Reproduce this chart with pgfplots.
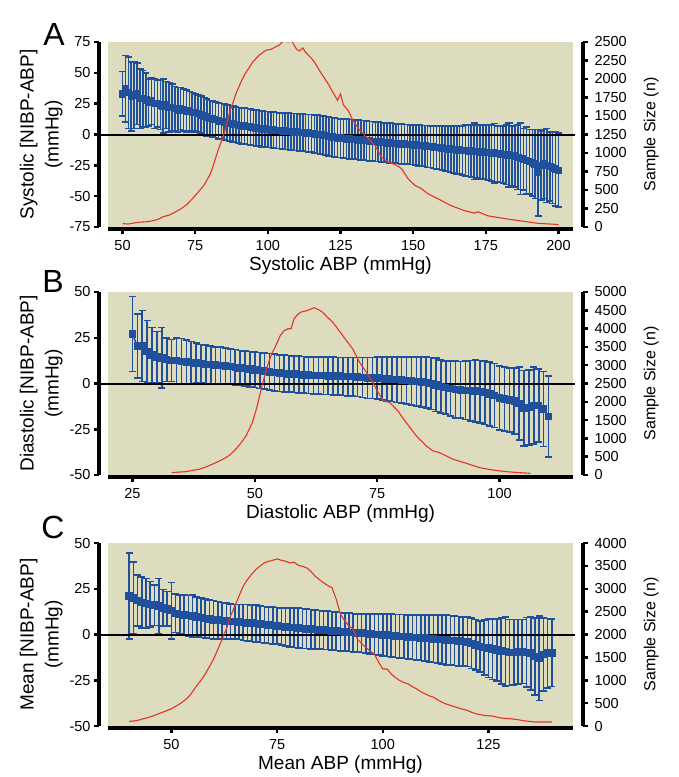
\documentclass[border=0pt]{standalone}
\usepackage{pgfplots}
\pgfplotsset{compat=1.18}
\usepackage{pgfplotstable}
\usepackage{fontspec}
\setmainfont{Liberation Sans}
\definecolor{bgk}{RGB}{221,220,191}
\definecolor{pblue}{RGB}{32,80,155}
\definecolor{pred}{RGB}{228,52,36}

\pgfplotstableread[row sep=\\]{x m e\\
50 33 18\\ 51 37 27\\ 52 34 29\\ 53 31 28\\ 54 32 27\\ 55 33 25\\ 56 29 24\\ 57 29 23\\ 58 28 22\\ 59 26 19\\
60 27 19\\ 61 25 20\\ 62 25 19\\ 63 24 20\\ 64 23 22\\ 65 24 19\\ 66 22 20\\ 67 22 19\\ 68 21 18\\ 69 20 18\\
70 21 17\\ 71 20 17\\ 72 19 17\\ 73 19 16\\ 74 18 16\\ 75 18 15\\ 76 17 15\\ 77 16 15\\ 78 15 15\\ 79 14 15\\
80 13 14.5\\ 81 12.5 14.5\\ 82 12 14.5\\ 83 11 14.5\\ 84 10.5 14.5\\ 85 10 14.5\\ 86 9.5 14.5\\ 87 9 14.5\\ 88 8.5 14.5\\ 89 8 14.5\\
90 7.5 14.5\\ 91 7 14.5\\ 92 6.8 14.5\\ 93 6.5 14.5\\ 94 6 14.5\\ 95 5.5 14.5\\ 96 5.2 14.5\\ 97 5 14.5\\ 98 4.6 14.5\\ 99 4.3 14.5\\
100 4 14.5\\ 101 3.8 14.5\\ 102 3.6 14.5\\ 103 3.3 14.5\\ 104 3.1 14.5\\ 105 3 14.8\\ 106 2.7 14.8\\ 107 2.5 14.8\\ 108 2.3 14.8\\ 109 2.1 15\\
110 2 15\\ 111 1.8 15\\ 112 1.5 15\\ 113 1.3 15\\ 114 1.1 15.2\\ 115 1 15.3\\ 116 0.5 15.3\\ 117 0.2 15.5\\ 118 -0.2 15.5\\ 119 -0.6 15.5\\
120 -1 15.7\\ 121 -1.5 15.7\\ 122 -2 15.7\\ 123 -2.4 15.8\\ 124 -2.7 15.8\\ 125 -3 15.8\\ 126 -3.2 15.8\\ 127 -3.5 16\\ 128 -3.7 16\\ 129 -3.9 16\\
130 -4.1 16\\ 131 -4.3 16\\ 132 -4.5 16\\ 133 -4.8 16\\ 134 -5 16\\ 135 -5.3 16\\ 136 -5.5 16\\ 137 -5.8 16\\ 138 -6 16\\ 139 -6.2 16\\
140 -6.5 16\\ 141 -6.7 16\\ 142 -6.9 16\\ 143 -7.1 16\\ 144 -7.3 16\\ 145 -7.5 16\\ 146 -7.7 16\\ 147 -7.8 16\\ 148 -8 16\\ 149 -8.2 16\\
150 -8.4 16\\ 151 -8.6 16.3\\ 152 -8.9 16.5\\ 153 -9.1 16.5\\ 154 -9.4 16.7\\ 155 -9.6 17\\ 156 -9.9 17\\ 157 -10.1 17.5\\ 158 -10.4 17.5\\ 159 -10.7 17.8\\
160 -11 18\\ 161 -11.3 18.5\\ 162 -11.6 18.5\\ 163 -11.9 19\\ 164 -12.2 19\\ 165 -12.5 19.5\\ 166 -12.7 19.5\\ 167 -12.9 20\\ 168 -13 20.5\\ 169 -13.2 21\\
170 -13.4 21\\ 171 -13.6 23\\ 172 -13.8 21.5\\ 173 -14 22\\ 174 -14.3 21.5\\ 175 -14.5 22\\ 176 -14.7 22\\ 177 -15 22.5\\ 178 -15.2 24\\ 179 -15.5 22.5\\
180 -15.8 23\\ 181 -16.2 23\\ 182 -16.5 24\\ 183 -16.8 26\\ 184 -17.2 24\\ 185 -17.6 25\\ 186 -18.5 26\\ 187 -19.5 29\\ 188 -20 25\\ 189 -21 27\\
190 -22 26\\ 191 -23 27\\ 192 -24 28\\ 193 -31 35\\ 194 -25 28\\ 195 -24 28\\ 196 -25 30\\ 197 -26 28\\ 198 -27 29\\ 199 -28 30\\ 200 -29 30\\
}\dataA

\pgfplotstableread[row sep=\\]{x m e\\
25 27 20.5\\ 26 20.5 17.5\\ 27 20.5 19.5\\ 28 17.5 17\\ 29 15.5 15\\ 30 14.5 14\\ 31 14 16.5\\ 32 13 12\\ 33 12.5 11.5\\ 34 12.5 12.5\\
35 12 12.5\\ 36 11.8 12\\ 37 11.5 11.5\\ 38 11.2 11\\ 39 10.8 10.5\\ 40 10.5 10.5\\ 41 10.3 10.3\\ 42 10 10\\ 43 9.8 10\\ 44 9.5 9.8\\
45 9.2 9.8\\ 46 8.8 9.7\\ 47 8.5 9.6\\ 48 8.2 9.6\\ 49 7.8 9.6\\ 50 7.5 9.6\\ 51 7.1 9.8\\ 52 6.8 9.8\\ 53 6.4 9.9\\ 54 6 10\\
55 5.7 10\\ 56 5.5 10\\ 57 5.3 10\\ 58 5.1 10\\ 59 4.9 10\\ 60 4.7 10\\ 61 4.6 10\\ 62 4.5 10.1\\ 63 4.4 10.1\\ 64 4.3 10.2\\
65 4.2 10.2\\ 66 4.1 10.3\\ 67 4 10.3\\ 68 3.9 10.4\\ 69 3.8 10.5\\ 70 3.7 10.5\\ 71 3.5 10.7\\ 72 3.3 11\\ 73 3.1 11.2\\ 74 3 11.3\\
75 2.9 11.5\\ 76 2.7 11.7\\ 77 2.5 12\\ 78 2.3 12.2\\ 79 2.1 12.4\\ 80 2 12.6\\ 81 1.7 12.8\\ 82 1.4 13\\ 83 1.1 13.3\\ 84 0.8 13.6\\
85 0.5 14\\ 86 0 14.3\\ 87 -0.7 14.6\\ 88 -1.5 14.5\\ 89 -2.2 14.5\\ 90 -2.8 15\\ 91 -3.2 15.5\\ 92 -3.5 15.5\\ 93 -3.7 16\\ 94 -3.9 16.5\\
95 -4.1 17\\ 96 -4.5 17\\ 97 -5 17.3\\ 98 -5.6 17.5\\ 99 -6.6 17.5\\ 100 -7.8 17.5\\ 101 -8.4 17.5\\ 102 -9 17.5\\ 103 -9.6 18\\ 104 -11 20\\
105 -13.5 20.5\\ 106 -13 20.5\\ 107 -12 21\\ 108 -12 20\\ 109 -14 20.5\\ 110 -18 22\\
}\dataB

\pgfplotstableread[row sep=\\]{x m e\\
40 21 23.5\\ 41 20 19.5\\ 42 18.5 14\\ 43 17.5 14\\ 44 17 13.5\\ 45 16.5 12.5\\ 46 16 11\\ 47 15.5 15\\ 48 14.5 10\\ 49 14 9.5\\
50 13 15.5\\ 51 11.5 10.5\\ 52 11 10.5\\ 53 10.7 11\\ 54 10.3 11\\ 55 10 11.5\\ 56 9.6 11\\ 57 9.2 10.8\\ 58 8.8 10.6\\ 59 8.4 10.5\\
60 8 10.5\\ 61 7.8 10.3\\ 62 7.6 10\\ 63 7.4 9.8\\ 64 7.2 9.6\\ 65 7 9.5\\ 66 6.8 9.6\\ 67 6.6 9.8\\ 68 6.4 9.9\\ 69 6.2 10\\
70 6 10\\ 71 5.7 10\\ 72 5.4 10\\ 73 5.1 10\\ 74 4.9 10\\ 75 4.7 10\\ 76 4.4 10.2\\ 77 4.2 10.4\\ 78 3.9 10.6\\ 79 3.7 10.8\\
80 3.5 11\\ 81 3.3 10.9\\ 82 3.1 10.8\\ 83 2.9 10.7\\ 84 2.8 10.6\\ 85 2.6 10.5\\ 86 2.4 10.5\\ 87 2.2 10.5\\ 88 2 10.5\\ 89 1.8 10.5\\
90 1.6 10.5\\ 91 1.4 10.5\\ 92 1.2 10.5\\ 93 1 10.5\\ 94 0.8 10.5\\ 95 0.7 10.5\\ 96 0.5 10.7\\ 97 0.3 10.9\\ 98 0.1 11.1\\ 99 0 11.3\\
100 -0.2 11.5\\ 101 -0.4 11.6\\ 102 -0.6 11.7\\ 103 -0.8 11.8\\ 104 -1 11.9\\ 105 -1.1 12\\ 106 -1.3 12.1\\ 107 -1.5 12.2\\ 108 -1.7 12.3\\ 109 -1.9 12.4\\
110 -2 12.5\\ 111 -2.2 12.7\\ 112 -2.4 12.9\\ 113 -2.6 13.1\\ 114 -2.8 13.3\\ 115 -3 13.5\\ 116 -3.2 13.5\\ 117 -3.4 13.5\\ 118 -3.6 13.5\\ 119 -3.8 13.5\\
120 -4 13.5\\ 121 -4.8 13.7\\ 122 -5.6 13.8\\ 123 -6.5 14\\ 124 -7 15\\ 125 -7.5 16\\ 126 -8 16.5\\ 127 -8.5 17\\ 128 -9 18\\ 129 -9.3 19\\
130 -9.9 18\\ 131 -9.7 17.8\\ 132 -9.5 17.6\\ 133 -9.3 17.5\\ 134 -9.7 19\\ 135 -10.2 20\\ 136 -12 21\\ 137 -13 23\\ 138 -11 20\\ 139 -10.2 19\\ 140 -10 18.5\\
}\dataC

\pgfplotsset{
  common/.style={
    scale only axis, width=465pt,
    /pgf/number format/assume math mode=true,
    /pgf/number format/1000 sep={},
    scaled ticks=false,
    tick align=outside, major tick length=5pt,
    tick style={black, line width=2.5pt},
    axis line style={black, line width=3.5pt, -},
    tick label style={font=\fontsize{14.5}{16}\selectfont},
  },
  leftpanel/.style={
    common,
    axis background/.style={fill=bgk},
    axis x line*=bottom, axis y line*=left,
    axis x line shift=2pt, axis y line shift=9pt,
    clip=false,
    xticklabel style={yshift=-3pt},
    xlabel style={font=\fontsize{19}{21}\selectfont, yshift=-1pt, inner sep=1pt},
    ylabel style={font=\fontsize{19}{25}\selectfont, align=center},
  },
  rightpanel/.style={
    common,
    axis x line=none, axis y line*=right,
    axis y line shift=10pt,
    yticklabel style={xshift=3pt},
    ylabel style={font=\fontsize{16}{18}\selectfont, yshift=-10pt},
  },
  meanplot/.style={pblue, line width=1.5pt, mark=square*, mark size=3pt, mark options={pblue, solid},
    error bars/.cd, y dir=both, y explicit,
    error bar style={line width=1.6pt, pblue},
    error mark options={line width=1.6pt, mark size=3.6pt, pblue, rotate=90}},
  nline/.style={pred, line width=1.1pt},
}

\begin{document}
\begin{tikzpicture}
\useasboundingbox (0,0) rectangle (679pt,-777pt);

% ---------------- Panel A ----------------
\begin{axis}[leftpanel, height=185pt, at={(108pt,-227pt)}, anchor=south west,
  xmin=45, xmax=205, ymin=-75, ymax=75,
  xtick={50,75,...,200}, ytick={-75,-50,...,75},
  xlabel={Systolic ABP (mmHg)}, ylabel={Systolic [NIBP-ABP]\\(mmHg)}]
\addplot[meanplot] table[x=x, y=m, y error=e] {\dataA};
\draw[black, line width=2pt] ([xshift=-9pt]axis cs:45,0) -- ([xshift=2pt]axis cs:205,0);
\end{axis}
\begin{axis}[rightpanel, height=185pt, at={(108pt,-227pt)}, anchor=south west,
  xmin=45, xmax=205, ymin=0, ymax=2500,
  ytick={0,250,...,2500}, ylabel={Sample Size (n)}]
\addplot[nline] coordinates {(50,46)(52,40)(54,55)(56,65)(58,70)(60,82)(62,100)(64,140)(65,150)(66,160)(68,200)(70,243)(72,300)(74,380)(75,426)(76,470)(78,563)(80,700)(81,800)(82,930)(83,1050)(84,1160)(85,1270)(86,1420)(87,1570)(88,1680)(89,1800)(90,1890)(91,1980)(92,2060)(93,2120)(94,2180)(95,2240)(96,2280)(97,2320)(98,2350)(99,2380)(100,2395)(101,2400)(102,2420)(103,2440)(104,2460)(105,2500)(106,2520)(107,2500)(108,2530)(109,2460)(110,2395)(111,2380)(112,2420)(113,2360)(114,2320)(115,2280)(116,2230)(117,2165)(118,2100)(119,2040)(120,1980)(121,1920)(122,1845)(123,1780)(124,1710)(125,1800)(126,1650)(127.7,1571)(129,1460)(131.2,1328)(133,1250)(134.6,1191)(136.9,1099)(139.2,939)(141.4,880)(144.3,834)(146,788)(148.3,650)(150.6,563)(152.9,517)(155.1,449)(158.6,380)(163.1,288)(167.7,220)(171.1,188)(172.3,206)(175.7,151)(181.4,114)(187.1,82)(192.8,50)(198.5,37)(200,30)};
\end{axis}
\node[anchor=base, font=\fontsize{32}{34}\selectfont, inner sep=0pt] at (54pt,-45pt) {A};

% ---------------- Panel B ----------------
\begin{axis}[leftpanel, height=183pt, at={(108pt,-475pt)}, anchor=south west,
  xmin=20, xmax=115, ymin=-50, ymax=50,
  xtick={25,50,75,100}, ytick={-50,-25,...,50},
  xlabel={Diastolic ABP (mmHg)}, ylabel={Diastolic [NIBP-ABP]\\(mmHg)}]
\addplot[meanplot] table[x=x, y=m, y error=e] {\dataB};
\draw[black, line width=2pt] ([xshift=-9pt]axis cs:20,0) -- ([xshift=2pt]axis cs:115,0);
\end{axis}
\begin{axis}[rightpanel, height=183pt, at={(108pt,-475pt)}, anchor=south west,
  xmin=20, xmax=115, ymin=0, ymax=5000,
  ytick={0,500,...,5000}, ylabel={Sample Size (n)}]
\addplot[nline] coordinates {(33,64)(34.5,80)(35.9,91)(37,120)(38.6,155)(40,220)(41.3,293)(42.7,380)(44.1,475)(45,560)(46.1,704)(47.2,880)(48.2,1069)(49.5,1435)(50.5,1892)(51.6,2514)(52.5,2950)(53.4,3300)(54.3,3538)(55.2,3812)(56,3949)(56.8,3995)(57.4,3995)(58,4269)(58.7,4380)(59.4,4452)(60.8,4497)(62.1,4570)(63,4520)(63.8,4452)(64.9,4300)(65.9,4177)(67.2,3949)(68.7,3675)(70,3446)(71.4,3080)(72.8,2806)(74.1,2532)(75,2303)(76.2,2029)(77.5,1984)(79.2,1755)(80.9,1435)(83,1069)(85,795)(86.4,658)(87.7,612)(90.5,430)(93.2,320)(95.9,201)(98.6,137)(101.4,91)(104.1,64)(106.3,46)};
\end{axis}
\node[anchor=base, font=\fontsize{32}{34}\selectfont, inner sep=0pt] at (53pt,-292pt) {B};

% ---------------- Panel C ----------------
\begin{axis}[leftpanel, height=183pt, at={(108pt,-726pt)}, anchor=south west,
  xmin=35, xmax=145, ymin=-50, ymax=50,
  xtick={50,75,100,125}, ytick={-50,-25,...,50},
  xlabel={Mean ABP (mmHg)}, ylabel={Mean [NIBP-ABP]\\(mmHg)}]
\addplot[meanplot] table[x=x, y=m, y error=e] {\dataC};
\draw[black, line width=2pt] ([xshift=-9pt]axis cs:35,0) -- ([xshift=2pt]axis cs:145,0);
\end{axis}
\begin{axis}[rightpanel, height=183pt, at={(108pt,-726pt)}, anchor=south west,
  xmin=35, xmax=145, ymin=0, ymax=4000,
  ytick={0,500,...,4000}, ylabel={Sample Size (n)}]
\addplot[nline] coordinates {(40,101)(41,110)(42,123)(43,150)(44,174)(45,200)(46,232)(47,270)(48,304)(49,340)(50,377)(51,430)(52,486)(53,550)(54,630)(55,750)(56,884)(57,1000)(58,1138)(59,1300)(60,1464)(61,1680)(62,1899)(63,2116)(64,2406)(65,2620)(66,2841)(67,3058)(68,3203)(69,3320)(70,3420)(71,3500)(72,3565)(73,3600)(74,3623)(75,3652)(76,3623)(77,3600)(78,3565)(79,3580)(80,3514)(81,3490)(82,3457)(83,3380)(84,3275)(85,3200)(86,3130)(87,3070)(88,3022)(89,2768)(90,2442)(91,2300)(92,2188)(93,2116)(94,1899)(95,1800)(96,1717)(97,1640)(98,1572)(99,1400)(100,1246)(101,1246)(102,1138)(103,1060)(104,993)(105,950)(106,920)(107,860)(108,812)(109,750)(110,703)(111,660)(112,630)(113,570)(114,522)(115,480)(116,449)(117,420)(118,391)(119,365)(120,341)(121,300)(122,268)(123,250)(124,232)(125,225)(126,217)(127,195)(128,174)(129,165)(130,159)(131,150)(132,138)(133,120)(134,109)(135,98)(136,87)(137,87)(138,87)(139,87)(140,87)};
\end{axis}
\node[anchor=base, font=\fontsize{32}{34}\selectfont, inner sep=0pt] at (53pt,-538pt) {C};
\end{tikzpicture}
\end{document}
